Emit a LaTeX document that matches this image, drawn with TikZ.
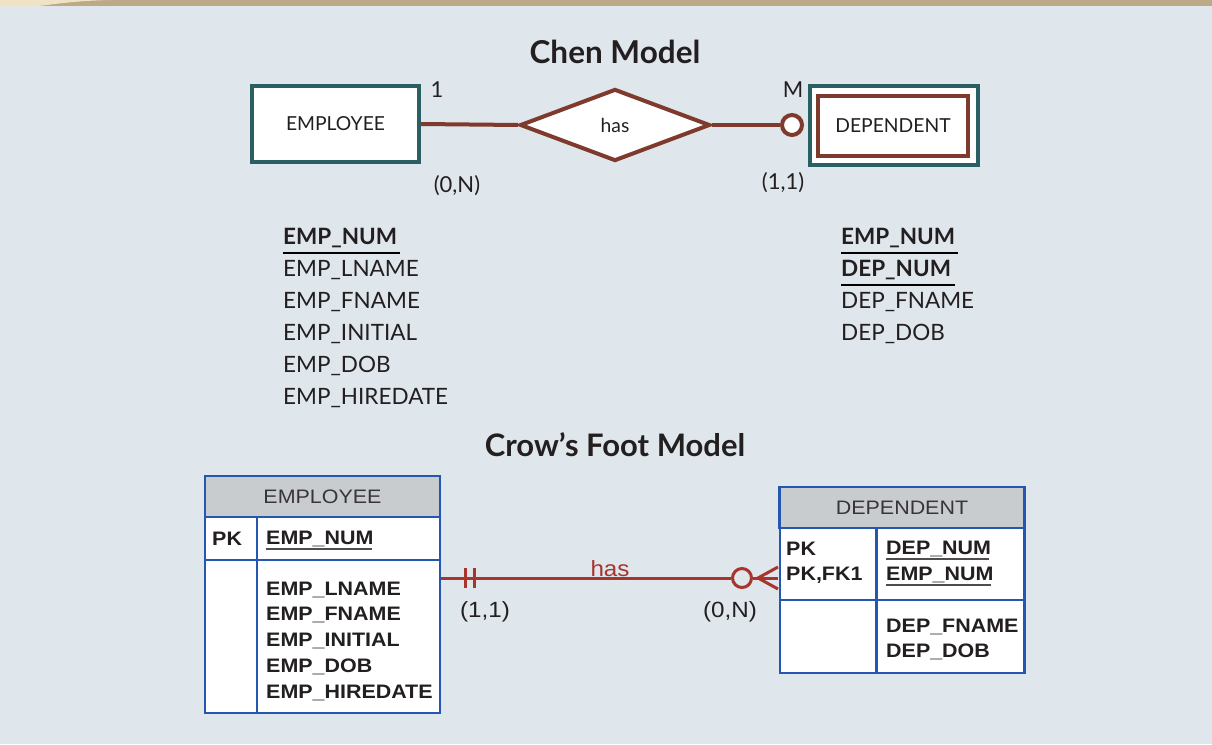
\documentclass[tikz,border=0pt]{standalone}
\usepackage{fontspec}
\setmainfont{Lato}
\newfontfamily\arialfont[FakeStretch=1.1]{Liberation Sans}
\usetikzlibrary{shapes.geometric,positioning}
\definecolor{panel}{HTML}{DFE6EC}
\definecolor{band}{HTML}{BBA987}
\definecolor{cream}{HTML}{EFE3C3}
\definecolor{chenteal}{HTML}{2A5F64}
\definecolor{brick}{HTML}{7F3A2E}
\definecolor{cfred}{HTML}{A8342E}
\definecolor{cfblue}{HTML}{2557B0}
\definecolor{hdgray}{HTML}{C8CCCF}
\definecolor{ink}{HTML}{231F20}
\newcommand{\fs}[1]{\fontsize{#1}{#1}\selectfont}

\begin{document}
\begin{tikzpicture}[x=1pt,y=-1pt,text=ink,
 ent/.style={draw=chenteal,line width=4pt,fill=white,minimum width=167pt,minimum height=76pt,font=\fs{19.3}},
 rel/.style={diamond,draw=brick,line width=4pt,fill=white,inner sep=0pt,minimum width=190pt,minimum height=72pt,font=\fs{19.3}},
 chenline/.style={draw=brick,line width=4pt},
 card/.style={font=\fs{22}},
 attr/.style={anchor=west,inner sep=0pt,font=\fs{22.5}},
 key/.style={attr,font=\bfseries\fs{22.5}},
 cell/.style={draw=cfblue,line width=2.5pt,fill=white,inner sep=0pt},
 cfhead/.style={cell,fill=hdgray,text=ink!90,font=\arialfont\fs{19.5}},
 cftext/.style={anchor=west,inner sep=0pt,font=\arialfont\bfseries\fs{19.5}},
 cfline/.style={draw=cfred,line width=3pt},
 cfcard/.style={font=\arialfont\fs{22}}]
\useasboundingbox(0,0)rectangle(1212,744);
\fill[panel](0,0)rectangle(1212,744);
\fill[band](0,0)rectangle(1212,6);
\fill[cream](0,0)--(110,0) .. controls (70,1) and (50,5) .. (38,6)--(0,6)--cycle;
% Chen model
\node[font=\bfseries\fs{31.5}](chen)at(615,52){Chen Model};
\node[ent](emp)at(335.5,124){EMPLOYEE};
\node[rel](has)at(615,125){has};
\node[circle,draw=brick,line width=4pt,fill=white,minimum size=20pt,inner sep=0pt](opt)at(792,125){};
\node[ent,minimum width=168pt,minimum height=79pt](dep)at(894,125.5){};
\node[ent,draw=brick,minimum width=150pt,minimum height=60pt](depin)at(893,126){DEPENDENT};
\draw[chenline](emp.east)--(has.west);\draw[chenline](has.east)--(opt.west);
\node[card](c1)at(437,90){1};\node[card](cm)at(793,90){M};
\node[card](c0n)at(457,186){(0,N)};\node[card](c11)at(783,183){(1,1)};
\node[key](ek)at(283,238){EMP\_NUM};\draw[line width=2pt](283,253)--(400,253);
\foreach[count=\j]\a in{EMP\_LNAME,EMP\_FNAME,EMP\_INITIAL,EMP\_DOB,EMP\_HIREDATE}{\node[attr](ea\j)at(283,{238+32*\j}){\a};}
\node[key](dk1)at(841,238){EMP\_NUM};\draw[line width=2pt](841,253)--(958,253);
\node[key](dk2)at(841,270){DEP\_NUM};\draw[line width=2pt](841,285)--(955,285);
\node[attr](da1)at(841,302){DEP\_FNAME};\node[attr](da2)at(841,334){DEP\_DOB};
% Crow's Foot model
\node[font=\bfseries\fs{31}](crow)at(615,445){Crow’s Foot Model};
\node[cfhead,minimum width=235pt,minimum height=42pt](eh)at(322.5,497){EMPLOYEE};
\node[cell,minimum width=52pt,minimum height=43pt](epk)at(231,538.5){};
\node[cell,minimum width=183pt,minimum height=43pt](ekey)at(348.5,538.5){};
\node[cell,minimum width=52pt,minimum height=153pt](ebl)at(231,636.5){};
\node[cell,minimum width=183pt,minimum height=153pt](ebody)at(348.5,636.5){};
\node[cftext](t1)at(212,539){PK};
\node[cftext](t2)at(266,539){EMP\_NUM};\draw[ink!80,line width=1.2pt](266,549)--(372,549);
\foreach[count=\j]\a in{EMP\_LNAME,EMP\_FNAME,EMP\_INITIAL,EMP\_DOB,EMP\_HIREDATE}{\node[cftext](eb\j)at(266,{564+25.7*\j}){\a};}
\node[cfhead,minimum width=245pt,minimum height=41pt](dh)at(902,507.5){DEPENDENT};
\node[cell,minimum width=97pt,minimum height=72pt](dpk)at(828.5,564){};
\node[cell,minimum width=148pt,minimum height=72pt](dkey)at(950.5,564){};
\node[cell,minimum width=97pt,minimum height=73pt](dbl)at(828.5,636.5){};
\node[cell,minimum width=148pt,minimum height=73pt](dbody)at(950.5,636.5){};
\node[cftext](u1)at(786,549){PK};\node[cftext](u2)at(786,575){PK,FK1};
\node[cftext](u3)at(886,549){DEP\_NUM};\node[cftext](u4)at(886,575){EMP\_NUM};
\draw[ink!80,line width=1.2pt](886,559)--(989,559);\draw[ink!80,line width=1.2pt](886,585)--(991,585);
\node[cftext](u5)at(886,627){DEP\_FNAME};\node[cftext](u6)at(886,652){DEP\_DOB};
\coordinate(ra)at(441,578);\coordinate(rb)at(778,578);
\node[circle,draw=cfred,line width=3pt,fill=panel,minimum size=19pt,inner sep=0pt](cfopt)at(742,578){};
\draw[cfline](ra)--(cfopt.west);\draw[cfline](cfopt.east)--(rb);
\draw[cfline](465,568)--(465,588)(474,568)--(474,588);
\draw[cfline](rb)++(0,-11)--(758,578)--(778,589);
\node[cfcard,text=cfred](cfhas)at(610,569){has};
\node[cfcard](cf11)at(485,612){(1,1)};\node[cfcard](cf0n)at(730,612){(0,N)};
\end{tikzpicture}
\end{document}
